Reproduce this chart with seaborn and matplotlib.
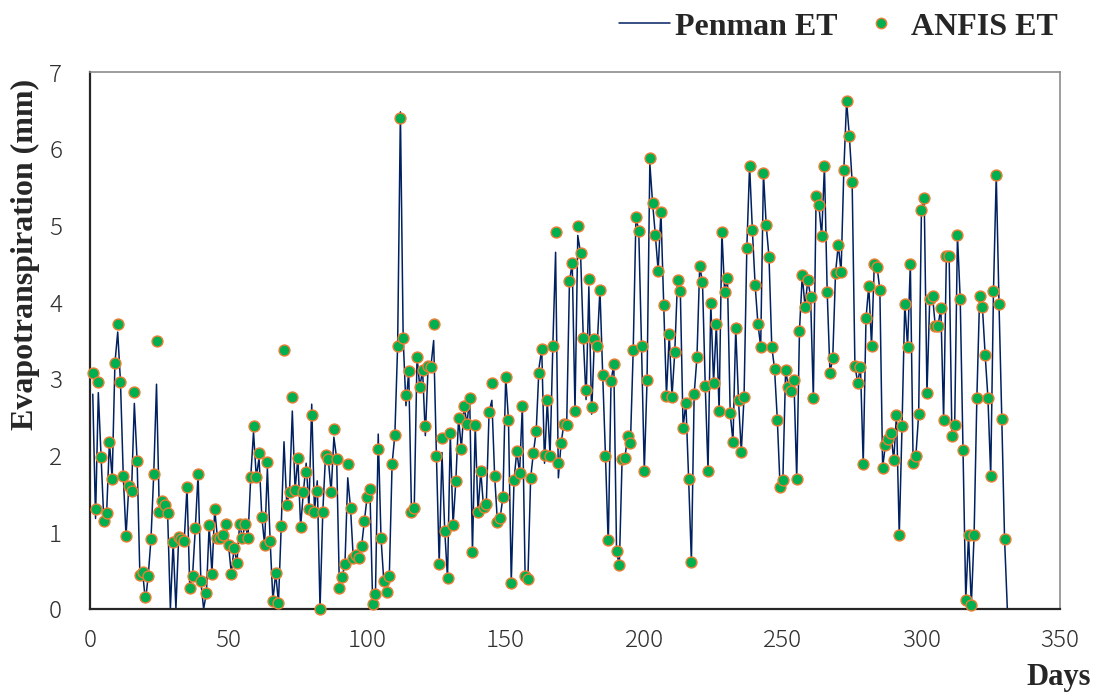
import numpy as np
import pandas as pd
import matplotlib
matplotlib.use("Agg")
import matplotlib.pyplot as plt
from matplotlib.lines import Line2D
import seaborn as sns

# ANFIS ET (days 1..330); NaN where no marker is drawn
anfis = [
    3.08, 1.30, 2.96, 1.98, 1.15, 1.25, 2.18, 1.70, 3.21, 3.72,
    2.96, 1.74, 0.95, 1.60, 1.54, 2.83, 1.93, 0.44, 0.48, 0.15,
    0.43, 0.91, 1.76, 3.49, 1.27, 1.41, 1.36, 1.25, np.nan, 0.87,
    np.nan, 0.94, 0.91, 0.89, 1.59, 0.28, 0.43, 1.05, 1.76, 0.36,
    np.nan, 0.21, 1.09, 0.46, 1.30, 0.92, 0.92, 0.97, 1.11, 0.83,
    0.46, 0.80, 0.60, 1.11, 0.93, 1.11, 0.93, 1.72, 2.39, 1.72,
    2.03, 1.20, 0.84, 1.92, 0.89, 0.11, 0.47, 0.08, 1.08, 3.38,
    1.36, 1.53, 2.77, 1.55, 1.97, 1.07, 1.53, 1.79, 1.31, 2.53,
    1.27, 1.54, 0.00, 1.27, 2.01, 1.95, 1.52, 2.34, 1.96, 0.27,
    0.42, 0.59, 1.89, 1.32, 0.66, 0.71, 0.66, 0.82, 1.15, 1.46,
    1.56, 0.06, 0.19, 2.09, 0.93, 0.37, 0.22, 0.43, 1.89, 2.27,
    3.43, 6.40, 3.53, 2.79, 3.10, 1.27, 1.32, 3.29, 2.89, 3.12,
    2.39, 3.17, 3.16, 3.72, 2.00, 0.59, 2.23, 1.02, 0.40, 2.29,
    1.09, 1.67, 2.49, 2.09, 2.65, 2.41, 2.75, 0.74, 2.40, 1.26,
    1.80, 1.33, 1.37, 2.57, 2.94, 1.74, 1.14, 1.19, 1.46, 3.03,
    2.46, 0.34, 1.68, 2.06, 1.77, 2.65, 0.43, 0.39, 1.71, 2.04,
    2.32, 3.08, 3.39, 2.01, 2.72, 1.99, 3.43, 4.92, 1.90, 2.17,
    2.41, 2.40, 4.27, 4.51, 2.58, 4.99, 4.64, 3.53, 2.85, 4.30,
    2.63, 3.52, 3.43, 4.16, 3.05, 1.99, 0.90, 2.97, 3.19, 0.75,
    0.57, 1.96, 1.97, 2.25, 2.16, 3.37, 5.11, 4.93, 3.43, 1.80,
    2.98, 5.88, 5.29, 4.87, 4.41, 5.18, 3.96, 2.78, 3.58, 2.77,
    3.35, 4.29, 4.15, 2.36, 2.69, 1.70, 0.61, 2.80, 3.28, 4.47,
    4.26, 2.91, 1.80, 3.99, 2.95, 3.71, 2.58, 4.92, 4.13, 4.32,
    2.55, 2.18, 3.66, 2.72, 2.05, 2.77, 4.71, 5.78, 4.94, 4.22,
    3.72, 3.42, 5.68, 5.00, 4.59, 3.42, 3.13, 2.47, 1.59, 1.68,
    3.12, 2.89, 2.84, 2.98, 1.70, 3.63, 4.35, 3.94, 4.29, 4.07,
    2.75, 5.38, 5.26, 4.86, 5.77, 4.13, 3.08, 3.27, 4.38, 4.75,
    4.39, 5.72, 6.62, 6.16, 5.57, 3.17, 2.95, 3.16, 1.89, 3.79,
    4.21, 3.43, 4.50, 4.46, 4.16, 1.84, 2.14, 2.21, 2.29, 1.94,
    2.53, 0.96, 2.39, 3.98, 3.42, 4.50, 1.90, 2.00, 2.54, 5.20,
    5.36, 2.81, 4.04, 4.08, 3.69, 3.69, 3.93, 2.47, 4.60, 4.60,
    2.26, 2.40, 4.87, 4.04, 2.07, 0.12, 0.96, 0.05, 0.96, 2.75,
    4.08, 3.94, 3.31, 2.75, 1.74, 4.15, 5.66, 3.97, 2.48, 0.91,
]

# Penman ET (days 1..331)
penman = [
    2.80, 1.18, 2.82, 1.98, 1.15, 1.25, 2.18, 1.70, 3.21, 3.61,
    2.96, 1.74, 0.95, 1.60, 1.54, 2.68, 1.93, 0.44, 0.48, 0.10,
    0.43, 0.91, 1.76, 2.93, 1.27, 1.41, 1.36, 1.25, 0.00, 0.87,
    0.00, 0.94, 0.91, 0.89, 1.59, 0.28, 0.43, 1.05, 1.76, 0.36,
    0.00, 0.21, 1.09, 0.46, 1.30, 0.92, 0.92, 0.97, 1.11, 0.83,
    0.46, 0.80, 0.60, 1.11, 0.93, 1.11, 0.93, 1.72, 2.31, 1.72,
    1.97, 1.20, 0.84, 1.84, 0.89, 0.11, 0.47, 0.08, 1.08, 2.18,
    1.36, 1.53, 2.58, 1.55, 1.97, 1.07, 1.53, 1.90, 1.31, 2.67,
    1.27, 1.67, 0.00, 1.27, 2.01, 1.95, 1.52, 2.24, 1.96, 0.27,
    0.42, 0.59, 1.71, 1.32, 0.66, 0.71, 0.66, 0.82, 1.15, 1.46,
    1.56, 0.06, 0.19, 2.28, 0.93, 0.37, 0.22, 0.43, 1.89, 2.27,
    3.43, 6.48, 3.53, 2.65, 3.10, 1.27, 1.32, 3.29, 2.89, 3.12,
    2.26, 3.17, 3.16, 3.50, 2.00, 0.59, 2.04, 1.02, 0.40, 2.29,
    1.09, 1.67, 2.49, 2.09, 2.65, 2.41, 2.75, 0.74, 2.40, 1.26,
    1.80, 1.33, 1.37, 2.57, 2.72, 1.74, 1.14, 1.19, 1.46, 3.03,
    2.46, 0.34, 1.68, 2.06, 1.77, 2.65, 0.43, 0.39, 1.71, 2.04,
    2.32, 3.14, 3.39, 1.90, 2.72, 1.99, 3.43, 4.65, 1.71, 2.17,
    2.41, 2.40, 4.27, 4.51, 2.58, 4.87, 4.64, 3.53, 2.73, 4.20,
    2.54, 3.52, 3.43, 4.16, 3.05, 1.99, 0.84, 2.97, 3.19, 0.75,
    0.57, 1.96, 1.97, 2.25, 2.16, 3.37, 5.11, 4.93, 3.43, 1.80,
    2.98, 5.81, 5.29, 4.87, 4.41, 5.18, 3.96, 2.78, 3.58, 2.77,
    3.35, 4.29, 4.15, 2.36, 2.69, 1.70, 0.61, 2.80, 3.28, 4.47,
    4.26, 2.91, 1.80, 3.99, 2.95, 3.71, 2.58, 4.92, 4.13, 4.32,
    2.55, 2.18, 3.66, 2.72, 2.05, 2.77, 4.71, 5.78, 4.94, 4.22,
    3.72, 3.42, 5.68, 5.00, 4.59, 3.42, 3.13, 2.47, 1.59, 1.68,
    3.12, 2.89, 2.84, 2.98, 1.70, 3.63, 4.35, 3.94, 4.29, 4.07,
    2.75, 5.38, 5.26, 4.86, 5.77, 4.13, 3.08, 3.27, 4.38, 4.75,
    4.39, 5.72, 6.62, 6.16, 5.57, 3.17, 2.95, 3.16, 1.89, 3.79,
    4.21, 3.43, 4.50, 4.46, 4.16, 1.84, 2.14, 2.21, 2.29, 1.94,
    2.53, 0.96, 2.39, 3.98, 3.42, 4.50, 1.90, 2.00, 2.54, 5.20,
    5.36, 2.81, 4.04, 4.08, 3.69, 3.69, 3.93, 2.47, 4.60, 4.60,
    2.26, 2.40, 4.87, 4.04, 2.07, 0.12, 0.96, 0.05, 0.96, 2.75,
    4.08, 3.94, 3.31, 2.75, 1.74, 4.15, 5.66, 3.97, 2.48, 0.91,
    0.00,
]

x_ticks = [0, 50, 100, 150, 200, 250, 300, 350]
y_ticks = [0, 1, 2, 3, 4, 5, 6, 7]

df_pen = pd.DataFrame({"day": np.arange(1, len(penman) + 1), "et": penman})
df_anf = pd.DataFrame({"day": np.arange(1, len(anfis) + 1), "et": anfis})

sns.set_style("white")
plt.rcParams["font.family"] = ["Noto Sans CJK JP", "DejaVu Sans"]

LINE_C = "#002060"
FILL_C = "#00B050"
EDGE_C = "#ED7D31"
SERIF = ["Liberation Serif", "DejaVu Serif"]

fig = plt.figure(figsize=(10.96, 6.93), dpi=100)
ax = fig.add_axes([90 / 1096, 1 - 609 / 693, (1060 - 90) / 1096, (609 - 72) / 693])

sns.lineplot(data=df_pen, x="day", y="et", ax=ax, color=LINE_C, linewidth=1.1,
             estimator=None, sort=False, zorder=2)
sns.scatterplot(data=df_anf.dropna(), x="day", y="et", ax=ax, color=FILL_C,
                edgecolor=EDGE_C, linewidth=1.0, s=62, zorder=3, clip_on=False)

ax.set_xlim(0, 350)
ax.set_ylim(0, 7)
ax.set_xticks(x_ticks)
ax.set_yticks(y_ticks)
ax.set_xticklabels([str(v) for v in x_ticks])
ax.set_yticklabels([str(v) for v in y_ticks])
ax.tick_params(axis="both", length=0, labelsize=17.5, labelcolor="#303030")
ax.tick_params(axis="x", pad=14)
ax.tick_params(axis="y", pad=20)
for lab in ax.get_xticklabels() + ax.get_yticklabels():
    lab.set_fontweight("light")
ax.set_xlabel("")
ax.set_ylabel("")

for side in ["left", "bottom"]:
    ax.spines[side].set_color("#262626")
    ax.spines[side].set_linewidth(1.6)
for side in ["top", "right"]:
    ax.spines[side].set_color("#8c8c8c")
    ax.spines[side].set_linewidth(1.2)
ax.grid(False)

fig.text(25 / 1096, 1 - 254 / 693, "Evapotranspiration (mm)", rotation=90,
         ha="center", va="center", fontsize=23, fontweight="bold", family=SERIF)
fig.text(1091 / 1096, 1 - 677 / 693, "Days", ha="right", va="center",
         fontsize=22, fontweight="bold", family=SERIF)

handles = [
    Line2D([0], [0], color=LINE_C, linewidth=1.1),
    Line2D([0], [0], linestyle="none", marker="o", markersize=7.5,
           markerfacecolor=FILL_C, markeredgecolor=EDGE_C, markeredgewidth=1.0),
]
fig.legend(handles, ["Penman ET", "ANFIS ET"], ncol=2, frameon=False,
           loc="center right", bbox_to_anchor=(1058 / 1096, 1 - 27 / 693),
           borderaxespad=0, borderpad=0, handlelength=1.6, handletextpad=0.15,
           columnspacing=0.55, prop={"family": SERIF, "weight": "bold", "size": 23})

fig.savefig("out.png", dpi=100)
